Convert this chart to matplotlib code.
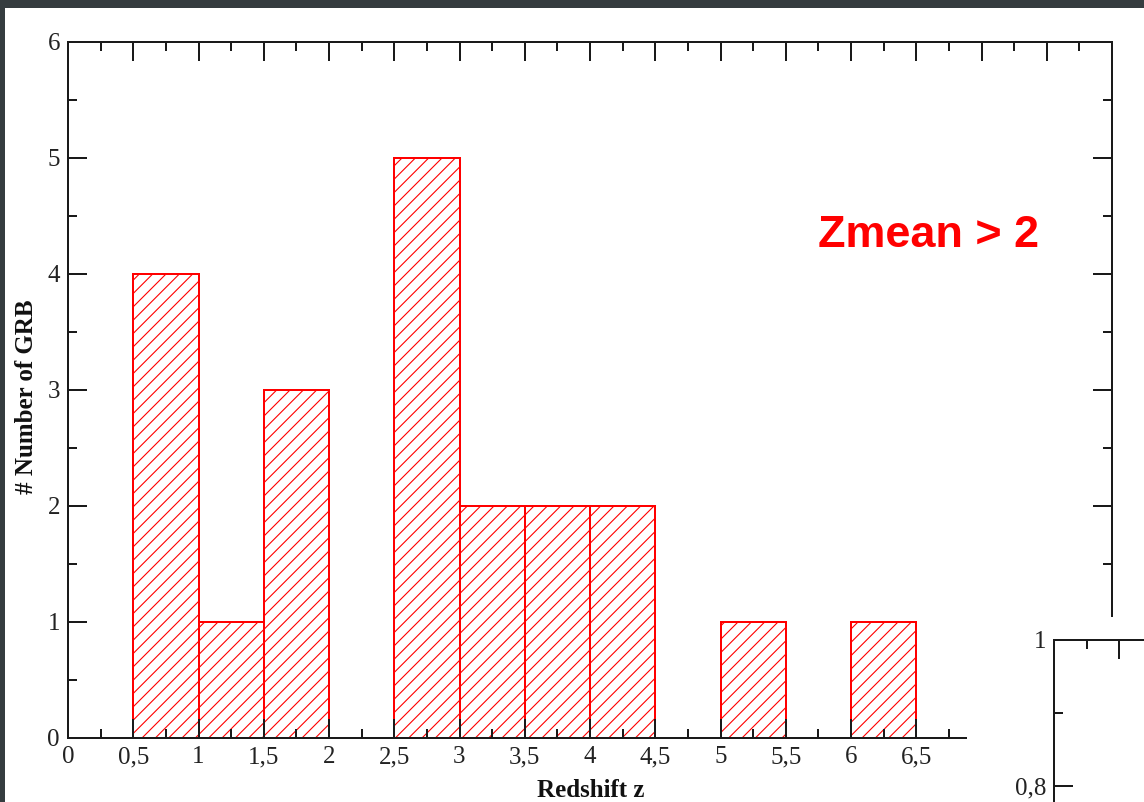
import matplotlib
matplotlib.use("Agg")
import matplotlib.pyplot as plt
from matplotlib.ticker import MultipleLocator, FuncFormatter
from matplotlib.patches import Rectangle

# Redshift histogram of GRBs (bins of width 0.5)
bin_edges_left = [0.5, 1.0, 1.5, 2.0, 2.5, 3.0, 3.5, 4.0, 4.5, 5.0, 5.5, 6.0]
grb_counts = [4, 1, 3, 0, 5, 2, 2, 2, 0, 1, 0, 1]
bin_width = 0.5

x_label = "Redshift z"
y_label = "# Number of GRB"
annotation = "Zmean > 2"

W, H, DPI = 1144, 802, 80
plt.rcParams["hatch.linewidth"] = 1.0
fig = plt.figure(figsize=(W / DPI, H / DPI), dpi=DPI)
fig.patch.set_facecolor("white")


def px_box(left, top, right, bottom):
    """Figure-fraction rectangle from pixel edges (y measured from top)."""
    return [left / W, (H - bottom) / H, (right - left) / W, (bottom - top) / H]


def comma_fmt(v, _pos=None):
    s = f"{v:.6g}"
    return s.replace(".", ",")


PT = 72 / DPI  # points per pixel
axis_col = "#1a1a1a"
serif = ["Liberation Serif", "DejaVu Serif"]


def style_axes(ax, xmaj, xmin, ymaj, ymin):
    for sp in ax.spines.values():
        sp.set_linewidth(2.0 * PT)
        sp.set_color(axis_col)
    ax.xaxis.set_major_locator(MultipleLocator(xmaj))
    ax.xaxis.set_minor_locator(MultipleLocator(xmin))
    ax.yaxis.set_major_locator(MultipleLocator(ymaj))
    ax.yaxis.set_minor_locator(MultipleLocator(ymin))
    ax.xaxis.set_major_formatter(FuncFormatter(comma_fmt))
    ax.yaxis.set_major_formatter(FuncFormatter(comma_fmt))
    ax.tick_params(which="both", direction="in", top=True, right=True,
                   color=axis_col, width=2.0 * PT)
    ax.tick_params(which="major", length=19 * PT, pad=8 * PT,
                   labelsize=25 * PT, labelcolor="#222222")
    ax.tick_params(which="minor", length=9 * PT)
    for lab in ax.get_xticklabels() + ax.get_yticklabels():
        lab.set_fontfamily(serif)


# Main histogram panel
ax = fig.add_axes(px_box(68, 42, 1112, 738))
ax.set_xlim(0, 8)
ax.set_ylim(0, 6)
style_axes(ax, 0.5, 0.25, 1, 0.5)

for left, n in zip(bin_edges_left, grb_counts):
    if n > 0:
        ax.bar(left, n, width=bin_width, align="edge", facecolor="white",
               edgecolor="#ff0000", linewidth=2.0 * PT, hatch="//")

ax.set_xlabel(x_label, fontfamily=serif, fontweight="bold",
              fontsize=25 * PT, color="#111111")
ax.set_ylabel(y_label, fontfamily=serif, fontweight="bold",
              fontsize=25 * PT, color="#111111")
ax.xaxis.label.set_verticalalignment("baseline")
ax.yaxis.label.set_verticalalignment("center")
ax.xaxis.set_label_coords((591 - 68) / (1112 - 68), -(797 - 738) / (738 - 42))
ax.yaxis.set_label_coords(-(68 - 27) / (1112 - 68), (738 - 397) / (738 - 42))

fig.text(818 / W, (H - 247) / H, annotation, color="#ff0000",
         fontfamily=["Liberation Sans", "DejaVu Sans"], fontweight="bold",
         fontsize=45 * PT, ha="left", va="baseline")

# Neighbouring panel that overlaps the lower-right corner
fig.add_artist(Rectangle((967 / W, 0), (W - 967) / W, (H - 617) / H,
                         transform=fig.transFigure, facecolor="white",
                         edgecolor="none", zorder=1))
ax2 = fig.add_axes(px_box(1054, 640, 1054 + 261, 640 + 219), zorder=2)
ax2.set_xlim(0, 2)
ax2.set_ylim(0.7, 1.0)
style_axes(ax2, 0.5, 0.25, 0.2, 0.1)
ax2.set_yticks([0.8, 1.0])
ax2.yaxis.set_major_formatter(FuncFormatter(comma_fmt))
for lab in ax2.get_yticklabels():
    lab.set_fontfamily(serif)
ax2.tick_params(labelbottom=False)

# Dark window frame along the top and left edges
frame_col = "#353c3f"
fig.add_artist(Rectangle((0, (H - 8) / H), 1, 8 / H, transform=fig.transFigure,
                         facecolor=frame_col, edgecolor="none", zorder=10))
fig.add_artist(Rectangle((0, 0), 5 / W, 1, transform=fig.transFigure,
                         facecolor=frame_col, edgecolor="none", zorder=10))

fig.savefig("out.png", dpi=DPI)
